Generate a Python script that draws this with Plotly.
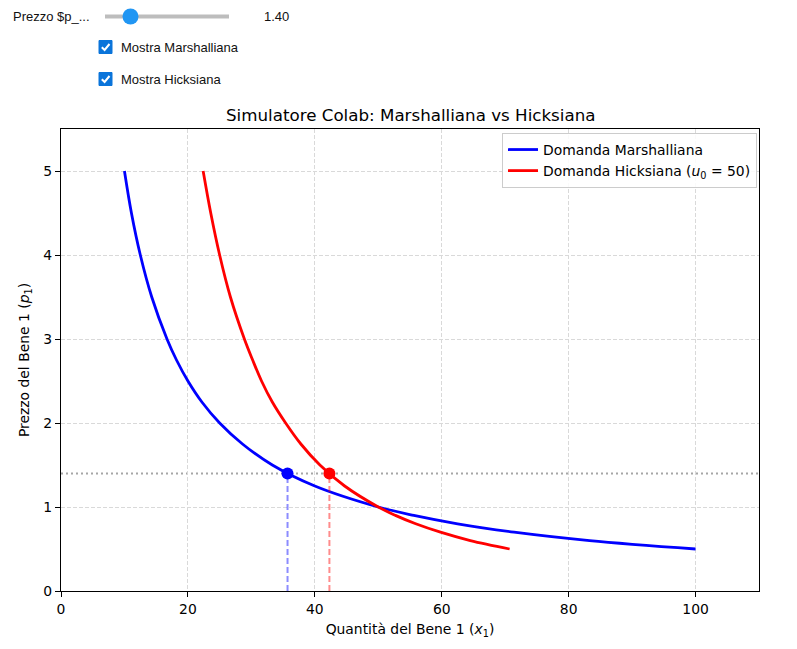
import plotly.graph_objects as go

# ---- data ----
prices = [5.0, 4.5, 4.0, 3.5, 3.0, 2.75, 2.5, 2.25, 2.0, 1.75, 1.5, 1.25, 1.0, 0.9, 0.8, 0.7, 0.6, 0.5]
marsh_x = [10.0, 11.1, 12.5, 14.3, 16.7, 18.2, 20.0, 22.2, 25.0, 28.6, 33.3, 40.0, 50.0, 55.6, 62.5, 71.4, 83.3, 100.0]
hicks_x = [22.4, 23.6, 25.0, 26.7, 28.9, 30.2, 31.6, 33.3, 35.4, 37.8, 40.8, 44.7, 50.0, 52.7, 55.9, 59.8, 64.5, 70.7]
current_price = 1.40
current_marsh_x = 35.7
current_hicks_x = 42.3
x_ticks = [0, 20, 40, 60, 80, 100]
y_ticks = [0, 1, 2, 3, 4, 5]

# ---- layout constants (pixel geometry) ----
W, H = 797, 649
L, R, T, B = 61, 759, 129, 591
def px(x):
    return (x - L) / (R - L)
def py(y):
    return (B - y) / (B - T)

FONT = "DejaVu Sans"
WFONT = "Liberation Sans"
FS = 13.9

fig = go.Figure()

fig.add_trace(go.Scatter(x=marsh_x, y=prices, mode="lines", line=dict(color="blue", width=2.8, shape="spline"),
                         name="Domanda Marshalliana"))
fig.add_trace(go.Scatter(x=hicks_x, y=prices, mode="lines", line=dict(color="red", width=2.8, shape="spline"),
                         name="Domanda Hicksiana (<i>u</i><sub>0</sub> = 50)"))

# vertical drop lines
fig.add_trace(go.Scatter(x=[current_marsh_x, current_marsh_x], y=[0, current_price], mode="lines",
                         line=dict(color="rgba(0,0,255,0.45)", width=2, dash="6px,3px"), showlegend=False))
fig.add_trace(go.Scatter(x=[current_hicks_x, current_hicks_x], y=[0, current_price], mode="lines",
                         line=dict(color="rgba(255,0,0,0.45)", width=2, dash="6px,3px"), showlegend=False))
# points
fig.add_trace(go.Scatter(x=[current_marsh_x], y=[current_price], mode="markers",
                         marker=dict(color="blue", size=12), showlegend=False))
fig.add_trace(go.Scatter(x=[current_hicks_x], y=[current_price], mode="markers",
                         marker=dict(color="red", size=12), showlegend=False))

shapes = []
# horizontal dotted line at current price
shapes.append(dict(type="line", xref="paper", yref="y", x0=0, x1=1, y0=current_price, y1=current_price,
                   line=dict(color="rgba(128,128,128,0.7)", width=2, dash="2px,3px"), layer="below"))

# ---- widgets drawn as shapes/annotations ----
shapes.append(dict(type="line", xref="paper", yref="paper", x0=px(105), x1=px(229), y0=py(16.5), y1=py(16.5),
                   line=dict(color="#bdbdbd", width=4)))
shapes.append(dict(type="circle", xref="paper", yref="paper", x0=px(122.5), x1=px(138.5), y0=py(8.5), y1=py(24.5),
                   fillcolor="#2196f3", line=dict(width=0)))
annotations = []
annotations.append(dict(text="Prezzo $p_...", xref="paper", yref="paper", x=px(11), y=py(16.5),
                        xanchor="left", yanchor="middle", showarrow=False,
                        font=dict(family=WFONT, size=13, color="#111")))
annotations.append(dict(text="1.40", xref="paper", yref="paper", x=px(262), y=py(16.5),
                        xanchor="left", yanchor="middle", showarrow=False,
                        font=dict(family=WFONT, size=13, color="#111")))
for cy, label in [(47, "Mostra Marshalliana"), (79, "Mostra Hicksiana")]:
    shapes.append(dict(type="rect", xref="paper", yref="paper", x0=px(99), x1=px(112), y0=py(cy - 6.5), y1=py(cy + 6.5),
                       fillcolor="#0a74da", line=dict(color="#0a74da", width=1)))
    path = "M {},{} L {},{} L {},{}".format(px(101.8), py(cy + 0.2), px(104.6), py(cy + 3), px(109.5), py(cy - 3))
    shapes.append(dict(type="path", xref="paper", yref="paper", path=path, line=dict(color="white", width=2)))
    annotations.append(dict(text=label, xref="paper", yref="paper", x=px(119), y=py(cy + 0.5),
                            xanchor="left", yanchor="middle", showarrow=False,
                            font=dict(family=WFONT, size=13, color="#111")))

# title
annotations.append(dict(text="Simulatore Colab: Marshalliana vs Hicksiana", xref="paper", yref="paper",
                        x=0.5, y=py(115), xanchor="center", yanchor="middle", showarrow=False,
                        font=dict(family=FONT, size=16.7, color="black")))

axis_common = dict(showline=True, linecolor="black", linewidth=1.2, mirror=True, ticks="outside",
                   ticklen=5, tickcolor="black", tickfont=dict(family=FONT, size=FS, color="black"),
                   showgrid=True, gridcolor="#d9d9d9", griddash="4px,2px", gridwidth=1, zeroline=False)

fig.update_layout(
    width=W, height=H,
    margin=dict(l=L, r=W - R, t=T, b=H - B, pad=0),
    paper_bgcolor="white", plot_bgcolor="white",
    font=dict(family=FONT, color="black"),
    xaxis=dict(range=[0, 110], tickvals=x_ticks, ticktext=[str(v) for v in x_ticks],
               title=dict(text="Quantità del Bene 1 (<i>x</i><sub>1</sub>)", font=dict(family=FONT, size=FS), standoff=8),
               **axis_common),
    yaxis=dict(range=[0, 5.5], tickvals=y_ticks, ticktext=[str(v) for v in y_ticks],
               title=dict(text="Prezzo del Bene 1 (<i>p</i><sub>1</sub>)", font=dict(family=FONT, size=FS), standoff=10),
               **axis_common),
    legend=dict(x=px(757), y=py(133), xanchor="right", yanchor="top",
                bgcolor="rgba(255,255,255,0.85)", bordercolor="#cccccc", borderwidth=1,
                font=dict(family=FONT, size=FS, color="black"), tracegroupgap=4, itemwidth=30),
    shapes=shapes, annotations=annotations, showlegend=True,
)

fig.write_html("out.html")
